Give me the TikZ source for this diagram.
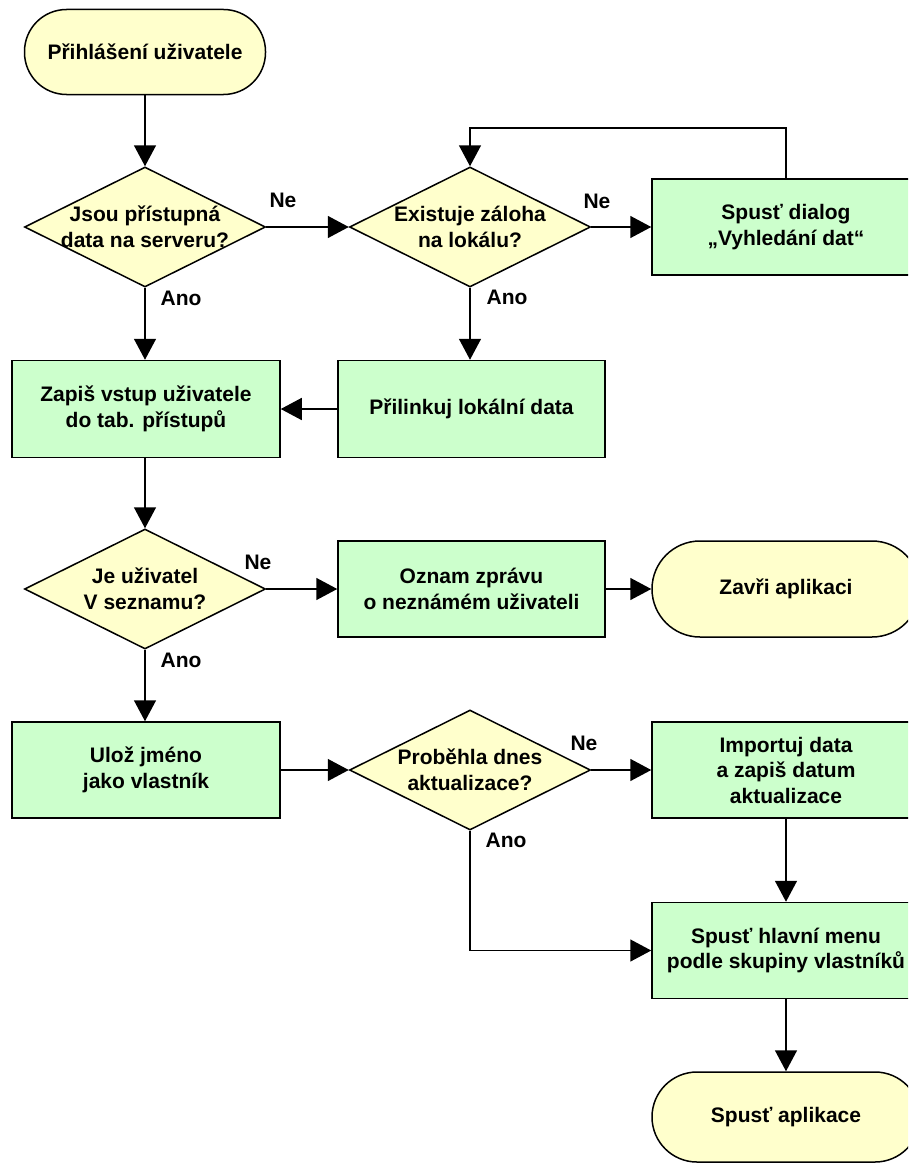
\documentclass[tikz,border=0pt]{standalone}
\usepackage{fontspec}
\setmainfont{Liberation Sans}
\usetikzlibrary{shapes.geometric,arrows.meta}
\definecolor{termfill}{HTML}{FFFFCC}
\definecolor{boxfill}{HTML}{CCFFCC}
\begin{document}
\begin{tikzpicture}[x=1pt,y=-1pt,
  every node/.style={font=\fontsize{21}{25.5}\selectfont\bfseries, align=center},
  terminal/.style={rectangle, draw=black, line width=1.5pt, fill=termfill, rounded corners=#1, inner sep=0pt},
  decision/.style={diamond, draw=black, line width=1.5pt, fill=termfill, inner sep=0pt,
    minimum width=241pt, minimum height=120pt},
  procbox/.style={rectangle, draw=black, line width=1.5pt, fill=boxfill, inner sep=0pt,
    minimum width=268pt, minimum height=96pt},
  flow/.style={line width=1.5pt, -{Triangle[length=21pt,width=22pt]}},
  answer/.style={inner sep=0pt}
]
\useasboundingbox (0,0) rectangle (908,1164);
\fill[white] (0,0) rectangle (908,1164);
\clip (0,0) rectangle (908,1164);

% left column
\node[terminal=42pt, minimum width=241pt, minimum height=85pt] (start) at (145,52) {Přihlášení uživatele};
\node[decision, label={center:{Jsou přístupná\\data na serveru?}}] (d1) at (145,227) {};
\node[procbox, minimum height=97pt] (zap) at (146,409) {Zapiš vstup uživatele\\do tab. přístupů};
\node[decision, label={center:{Je uživatel\\V seznamu?}}] (d3) at (145,589) {};
\node[procbox] (uloz) at (146,770) {Ulož jméno\\jako vlastník};

% middle column
\node[decision, label={center:{Existuje záloha\\na lokálu?}}] (d2) at (470,227) {};
\node[procbox, minimum width=267pt, minimum height=97pt] (pril) at (471.5,409) {Přilinkuj lokální data};
\node[procbox, minimum width=267pt] (ozn) at (471.5,589) {Oznam zprávu\\o neznámém uživateli};
\node[decision, label={center:{Proběhla dnes\\aktualizace?}}] (d4) at (470,770) {};

% right column
\node[procbox] (dlg) at (786,227) {Spusť dialog\\„Vyhledání dat“};
\node[terminal=48pt, minimum width=268pt, minimum height=96pt] (zav) at (786,589) {Zavři aplikaci};
\node[procbox] (imp) at (786,770) {Importuj data\\a zapiš datum\\aktualizace};
\node[procbox] (hl) at (786,950.5) {Spusť hlavní menu\\podle skupiny vlastníků};
\node[terminal=45pt, minimum width=268pt, minimum height=90pt] (app) at (786,1117) {Spusť aplikace};

% answer labels
\node[answer] (ne1) at (283,200) {Ne};
\node[answer] (ano1) at (181,298) {Ano};
\node[answer] (ne2) at (597,201) {Ne};
\node[answer] (ano2) at (507,297) {Ano};
\node[answer] (ne3) at (258,562) {Ne};
\node[answer] (ano3) at (181,660) {Ano};
\node[answer] (ne4) at (584,743) {Ne};
\node[answer] (ano4) at (506,840) {Ano};

% return path above the backup check
\coordinate (loop) at (0,128);

% connectors (vertical ones kept straight on the upper node's axis)
\draw[flow] (start.south) -- (start.south |- d1.north);
\draw[flow] (d1.east) -- (d1.east -| d2.west);
\draw[flow] (d2.east) -- (d2.east -| dlg.west);
\draw[flow] (dlg.north) -- (dlg.north |- loop) -- (d2.north |- loop) -- (d2.north);
\draw[flow] (d1.south) -- (d1.south |- zap.north);
\draw[flow] (d2.south) -- (d2.south |- pril.north);
\draw[flow] (pril.west) -- (pril.west -| zap.east);
\draw[flow] (zap.south -| d3.north) -- (d3.north);
\draw[flow] (d3.east) -- (d3.east -| ozn.west);
\draw[flow] (ozn.east) -- (ozn.east -| zav.west);
\draw[flow] (d3.south) -- (d3.south |- uloz.north);
\draw[flow] (uloz.east) -- (uloz.east -| d4.west);
\draw[flow] (d4.east) -- (d4.east -| imp.west);
\draw[flow] (imp.south) -- (imp.south |- hl.north);
\draw[flow] (d4.south) |- (hl.west);
\draw[flow] (hl.south) -- (hl.south |- app.north);
\end{tikzpicture}
\end{document}
